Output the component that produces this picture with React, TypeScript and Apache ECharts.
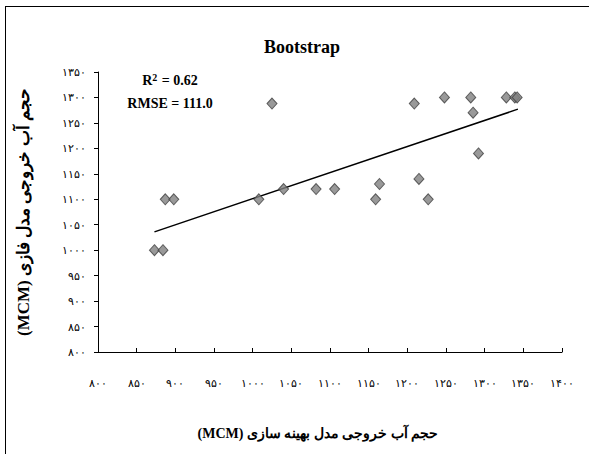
import React, { useEffect, useRef } from "react";
import * as echarts from "echarts";

const xValues = [873, 884, 887, 898, 1008, 1025, 1040, 1082, 1106, 1159, 1164, 1209, 1215, 1227, 1248, 1282, 1285, 1292, 1328, 1339, 1342];
const yValues = [1000, 1000, 1100, 1100, 1100, 1288, 1120, 1120, 1120, 1100, 1130, 1288, 1140, 1100, 1300, 1300, 1270, 1190, 1300, 1300, 1300];
const trendX = [873, 1343];
const trendY = [1036, 1277];
const xTickValues = [800, 850, 900, 950, 1000, 1050, 1100, 1150, 1200, 1250, 1300, 1350, 1400];
const xTickLabels = ["۸۰۰", "۸۵۰", "۹۰۰", "۹۵۰", "۱۰۰۰", "۱۰۵۰", "۱۱۰۰", "۱۱۵۰", "۱۲۰۰", "۱۲۵۰", "۱۳۰۰", "۱۳۵۰", "۱۴۰۰"];
const yTickValues = [800, 850, 900, 950, 1000, 1050, 1100, 1150, 1200, 1250, 1300, 1350];
const yTickLabels = ["۸۰۰", "۸۵۰", "۹۰۰", "۹۵۰", "۱۰۰۰", "۱۰۵۰", "۱۱۰۰", "۱۱۵۰", "۱۲۰۰", "۱۲۵۰", "۱۳۰۰", "۱۳۵۰"];
const titleText = "Bootstrap";
const xTitle = "(MCM) حجم آب خروجی مدل بهینه سازی";
const yTitle = "(MCM) حجم آب خروجی مدل فازی";
const r2Value = "0.62";
const rmseText = "RMSE = 111.0";

const FONT = "'Liberation Serif', 'DejaVu Serif', serif";

export default function App() {
  const ref = useRef<HTMLDivElement>(null);
  useEffect(() => {
    if (!ref.current) return;
    const chart = echarts.init(ref.current, null, { renderer: "svg" });
    const lookup = (vals: number[], labels: string[]) => (v: number) => {
      const i = vals.indexOf(Math.round(v));
      return i >= 0 ? labels[i] : "";
    };
    chart.setOption({
      animation: false,
      backgroundColor: "#ffffff",
      textStyle: { fontFamily: FONT },
      grid: { left: 98, right: 27, top: 72, bottom: 102 },
      xAxis: {
        type: "value",
        min: 800,
        max: 1400,
        interval: 50,
        axisLine: { show: true, lineStyle: { color: "#000", width: 1 } },
        axisTick: { show: true, inside: true, length: 4, lineStyle: { color: "#000" } },
        splitLine: { show: false },
        axisLabel: {
          show: true,
          margin: 25,
          fontSize: 11,
          color: "#000",
          fontFamily: FONT,
          formatter: lookup(xTickValues, xTickLabels),
        },
        name: xTitle,
        nameLocation: "middle",
        nameGap: 74,
        nameTextStyle: { fontSize: 14, fontWeight: "bold", color: "#000", fontFamily: FONT, padding: [0, 24, 0, 0] },
      },
      yAxis: {
        type: "value",
        min: 800,
        max: 1350,
        interval: 50,
        axisLine: { show: true, lineStyle: { color: "#000", width: 1 } },
        axisTick: { show: true, inside: false, length: 4, lineStyle: { color: "#000" } },
        splitLine: { show: false },
        axisLabel: {
          margin: 12,
          fontSize: 11,
          color: "#000",
          fontFamily: FONT,
          formatter: lookup(yTickValues, yTickLabels),
        },
        name: yTitle,
        nameLocation: "middle",
        nameGap: 66,
        nameRotate: 90,
        nameTextStyle: { fontSize: 17, fontWeight: "bold", color: "#000", fontFamily: FONT },
      },
      series: [
        {
          type: "line",
          data: trendX.map((x, i) => [x, trendY[i]]),
          showSymbol: false,
          symbol: "none",
          lineStyle: { color: "#000", width: 1.5 },
          z: 1,
        },
        {
          type: "scatter",
          data: xValues.map((x, i) => [x, yValues[i]]),
          symbol: "diamond",
          symbolSize: [10, 11],
          itemStyle: { color: "#808080", borderColor: "#404040", borderWidth: 1 },
          z: 2,
        },
      ],
      graphic: [
        { type: "line", shape: { x1: 5.5, y1: 6, x2: 5.5, y2: 454 }, style: { stroke: "#000", lineWidth: 1 } },
        { type: "line", shape: { x1: 5, y1: 6.5, x2: 589, y2: 6.5 }, style: { stroke: "#000", lineWidth: 1 } },
        {
          type: "text",
          x: 302,
          y: 47,
          style: { text: titleText, fontFamily: FONT, fontWeight: "bold", fontSize: 18, fill: "#000", textAlign: "center", textVerticalAlign: "middle" },
        },
        {
          type: "text",
          x: 170,
          y: 80,
          style: {
            text: "{a|R}{s|2}{a| = " + r2Value + "}",
            textAlign: "center",
            textVerticalAlign: "middle",
            rich: {
              a: { fontFamily: FONT, fontWeight: "bold", fontSize: 14, fill: "#000", color: "#000" },
              s: { fontFamily: FONT, fontWeight: "bold", fontSize: 10, fill: "#000", color: "#000", verticalAlign: "top", padding: [0, 1, 6, 0] },
            },
          },
        },
        {
          type: "text",
          x: 170,
          y: 103,
          style: { text: rmseText, fontFamily: FONT, fontWeight: "bold", fontSize: 14, fill: "#000", textAlign: "center", textVerticalAlign: "middle" },
        },
      ],
    });
    return () => chart.dispose();
  }, []);
  return (
    <div
      ref={ref}
      style={{ position: "fixed", left: 0, top: 0, width: 589, height: 454, background: "#fff" }}
    />
  );
}
